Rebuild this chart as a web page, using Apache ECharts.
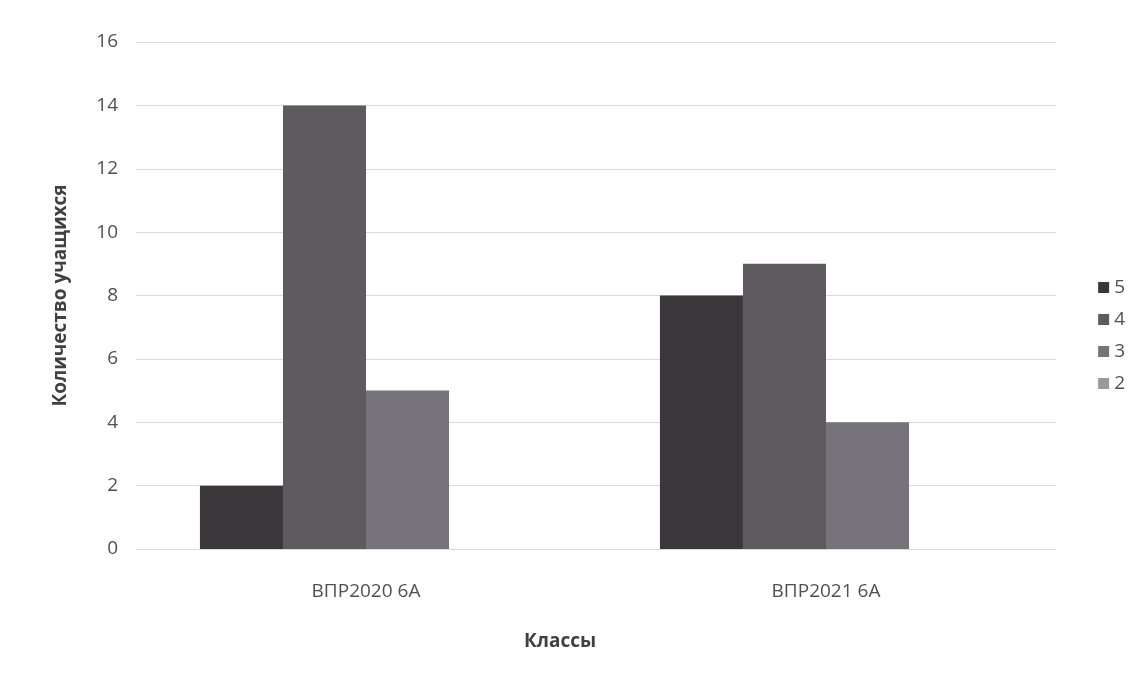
<!DOCTYPE html>
<html><head><meta charset="utf-8">
<script src="https://cdn.jsdelivr.net/npm/echarts@6/dist/echarts.min.js"></script>
<style>html,body{margin:0;padding:0;background:#fff}#c{width:1144px;height:677px}</style>
</head><body><div id="c"></div>
<script>
const categories = ['ВПР2020 6А', 'ВПР2021 6А'];
const seriesNames = ['5', '4', '3', '2'];
const s5 = [2, 8];
const s4 = [14, 9];
const s3 = [5, 4];
const s2 = [0, 0];
const yTicks = [0, 2, 4, 6, 8, 10, 12, 14, 16];

const values = [s5, s4, s3, s2];
const colors = ['#3b3639', '#5e5a60', '#77737a', '#9c999e'];
const font = '"Open Sans", "Liberation Sans", sans-serif';

const chart = echarts.init(document.getElementById('c'));
chart.setOption({
  backgroundColor: '#fff',
  animation: false,
  grid: {left: 136, right: 88, top: 42, bottom: 128},
  legend: {
    orient: 'vertical', right: 14, top: 273,
    itemWidth: 11, itemHeight: 11, itemGap: 13,
    icon: 'rect',
    textStyle: {color: '#505050', fontSize: 19, fontFamily: font},
    data: seriesNames
  },
  xAxis: {
    type: 'category', data: categories,
    name: 'Классы', nameLocation: 'middle', nameGap: 83,
    nameTextStyle: {color: '#404040', fontSize: 19, fontWeight: 'bold', fontFamily: font, padding: [0, 72, 0, 0]},
    axisLine: {show: true, lineStyle: {color: '#d9d9d9'}},
    axisTick: {show: false},
    axisLabel: {color: '#505050', fontSize: 19, fontFamily: font, margin: 33}
  },
  yAxis: {
    type: 'value', min: 0, max: 16, interval: 2,
    name: 'Количество учащихся', nameLocation: 'middle', nameGap: 66,
    nameTextStyle: {color: '#404040', fontSize: 19, fontWeight: 'bold', fontFamily: font},
    axisLine: {show: false}, axisTick: {show: false},
    axisLabel: {color: '#505050', fontSize: 19, fontFamily: font, margin: 18,
      formatter: v => yTicks.includes(v) ? String(v) : ''},
    splitLine: {lineStyle: {color: '#d9d9d9'}}
  },
  series: seriesNames.map((n, i) => ({
    name: n, type: 'bar', data: values[i],
    barGap: '0%', barCategoryGap: '27.8%',
    itemStyle: {color: colors[i]}
  }))
});
</script></body></html>
